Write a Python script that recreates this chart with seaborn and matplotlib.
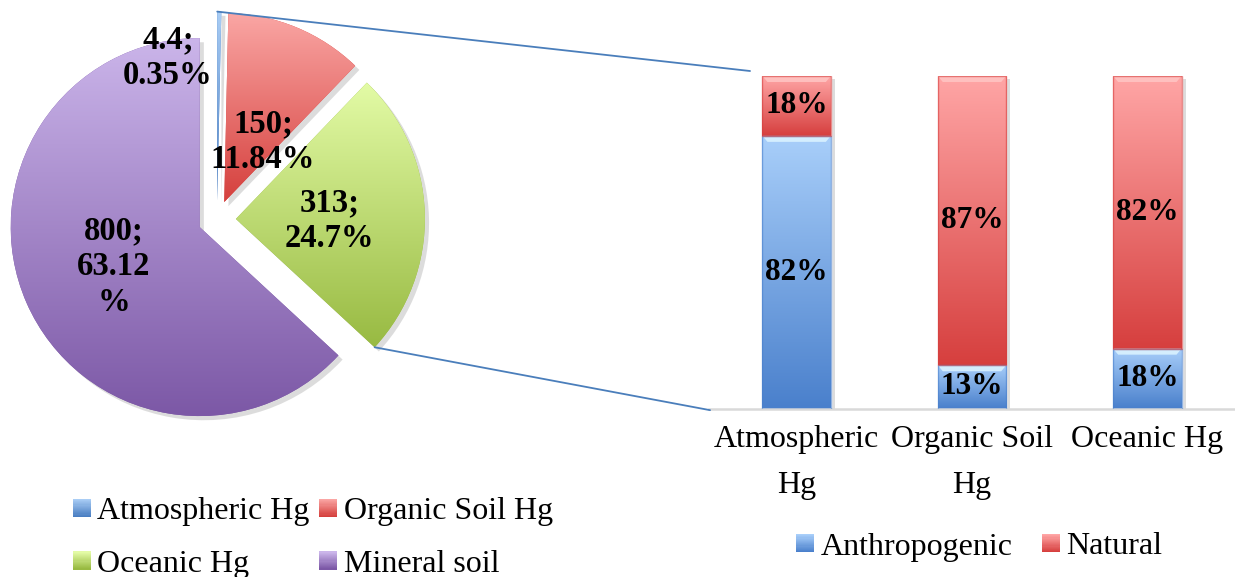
import numpy as np
import matplotlib
matplotlib.use("Agg")
import matplotlib.pyplot as plt
import matplotlib.patheffects as pe
import seaborn as sns
from matplotlib.patches import Rectangle, Polygon, Patch, ConnectionPatch
from matplotlib.legend_handler import HandlerBase
from matplotlib.colors import LinearSegmentedColormap, to_rgb

# Global mercury pools (pie)
sources = ["Atmospheric Hg", "Organic Soil Hg", "Oceanic Hg", "Mineral soil"]
amounts = [4.4, 150, 313, 800]

# Share of anthropogenic vs natural mercury per pool (stacked bars)
bar_categories = ["Atmospheric\nHg", "Organic Soil\nHg", "Oceanic Hg"]
anthropogenic = [82, 13, 18]
natural = [18, 87, 82]

sns.set_theme(style="white")
plt.rcParams["font.family"] = ["Liberation Serif", "DejaVu Serif"]

# top / bottom colours of the vertical gradients
pie_grad = [("#A9CDF5", "#4A7EC2"), ("#FAA6A4", "#D5403D"),
            ("#E3FBA6", "#98BA42"), ("#CBB5EA", "#7C58A6")]
blue_grad = ("#A9CFFA", "#4A80CC")
red_grad = ("#FFA6A6", "#D63F3E")
line_blue = "#4A7EBB"

W, H = 1235, 577
fig = plt.figure(figsize=(W / 100, H / 100), dpi=100)


def gradient_fill(ax, top, bottom, extent, clip=None, zorder=2):
    cmap = LinearSegmentedColormap.from_list("g", [top, bottom])
    grad = np.linspace(0, 1, 256).reshape(-1, 1)
    im = ax.imshow(grad, cmap=cmap, extent=extent, origin="upper",
                   aspect="auto", interpolation="bicubic", zorder=zorder)
    if clip is not None:
        im.set_clip_path(clip)
    return im


# ---------------- pie ----------------
R, cx, cy, half = 189.0, 217.0, 219.5, 215.0
ax_pie = fig.add_axes([(cx - half) / W, (H - cy - half) / H, 2 * half / W, 2 * half / H])
wedges, _ = ax_pie.pie(amounts, startangle=90, counterclock=False,
                       explode=[0.1] * len(amounts), radius=1,
                       wedgeprops=dict(linewidth=0))
lim = half / R
ax_pie.axis("off")

shadow = [pe.SimplePatchShadow(offset=(3, -3), shadow_rgbFace="#777777", alpha=0.25), pe.Normal()]
for w, (top, bot) in zip(wedges, pie_grad):
    w.set_facecolor(bot)
    w.set_path_effects(shadow)
    ext = w.get_path().get_extents()
    gradient_fill(ax_pie, top, bot, [ext.x0, ext.x1, ext.y0, ext.y1], clip=w)
ax_pie.set_xlim(-lim, lim)
ax_pie.set_ylim(-lim, lim)

total = sum(amounts)
label_pos = [(-0.259, 0.855), (0.243, 0.410), (0.595, -0.005), (-0.545, -0.250)]
wrap_pct = [False, False, False, True]
for amt, (lx, ly), wrap in zip(amounts, label_pos, wrap_pct):
    pct = f"{round(100 * amt / total, 2):g}"
    txt = f"{amt:g};\n{pct}\n%" if wrap else f"{amt:g};\n{pct}%"
    ax_pie.text(lx, ly, txt, ha="center", va="center", multialignment="center",
                fontsize=23.5, fontweight="bold", color="black", linespacing=1.2, zorder=5)

# ---------------- stacked bars ----------------
x0_px, base_px, top_px = 709.0, 408.5, 76.0
ax_bar = fig.add_axes([x0_px / W, (H - base_px) / H, (W - x0_px) / W, (base_px - top_px) / H])
totals = [a + n for a, n in zip(anthropogenic, natural)]
sns.barplot(x=bar_categories, y=totals, color=red_grad[1], width=0.39,
            saturation=1, ax=ax_bar)
sns.barplot(x=bar_categories, y=anthropogenic, color=blue_grad[1], width=0.39,
            saturation=1, ax=ax_bar)

ax_bar.set_xlim(-0.5, len(bar_categories) - 0.5)
ax_bar.set_ylim(0, 100)
px_per_unit = (W - x0_px) / len(bar_categories)

n = len(bar_categories)
red_bars, blue_bars = ax_bar.patches[:n], ax_bar.patches[n:2 * n]
dx = 5 / px_per_unit
dy = 6 / (base_px - top_px) * 100
for rb, bb, a, nat in zip(red_bars, blue_bars, anthropogenic, natural):
    rb.set_path_effects([pe.SimplePatchShadow(offset=(3, -2), shadow_rgbFace="#777777", alpha=0.25), pe.Normal()])
    xl, wd = bb.get_x(), bb.get_width()
    segments = [(0, a, blue_grad, "#DDF4FF"), (a, a + nat, red_grad, "#FFC6C4")]
    for y0, y1, (top, bot), hi in segments:
        gradient_fill(ax_bar, top, bot, [xl, xl + wd, y0, y1], zorder=3)
        ax_bar.add_patch(Polygon([(xl, y1), (xl + wd, y1), (xl + wd - dx, y1 - dy), (xl + dx, y1 - dy)],
                                 closed=True, facecolor=hi, edgecolor="none", alpha=0.85, zorder=4))
        ax_bar.add_patch(Rectangle((xl, y0), wd, y1 - y0, facecolor="none",
                                   edgecolor=bot, linewidth=1.0, alpha=0.6, zorder=4))
        ax_bar.text(xl + wd / 2, (y0 + y1) / 2, f"{y1 - y0:g}%", ha="center", va="center",
                    fontsize=22.5, fontweight="bold", color="black", zorder=6)

for s in ["left", "right", "top"]:
    ax_bar.spines[s].set_visible(False)
ax_bar.spines["bottom"].set_color("#D9D9D9")
ax_bar.spines["bottom"].set_linewidth(1.8)
ax_bar.set_yticks([])
ax_bar.set_xlabel("")
ax_bar.set_ylabel("")
ax_bar.tick_params(axis="x", length=0, pad=12, labelsize=23, labelcolor="black")
for t in ax_bar.get_xticklabels():
    t.set_linespacing(1.75)

# ---------------- connector lines ----------------
w_atm, w_oce = wedges[0], wedges[2]
ta = np.deg2rad(w_atm.theta2)
pA_top = (w_atm.center[0] + w_atm.r * np.cos(ta), w_atm.center[1] + w_atm.r * np.sin(ta))
to = np.deg2rad(w_oce.theta1)
pA_bot = (w_oce.center[0] + w_oce.r * np.cos(to), w_oce.center[1] + w_oce.r * np.sin(to))
for pa, pb in [(pA_top, (0.078, 1.015)), (pA_bot, (0.002, -0.005))]:
    con = ConnectionPatch(xyA=pa, coordsA=ax_pie.transData, xyB=pb, coordsB=ax_bar.transAxes,
                          color=line_blue, linewidth=1.3)
    fig.add_artist(con)


# ---------------- legends ----------------
class GradientSquare(HandlerBase):
    def __init__(self, top, bottom, size=13.0, steps=16):
        super().__init__()
        self.top, self.bottom = to_rgb(top), to_rgb(bottom)
        self.size, self.steps = size, steps

    def create_artists(self, legend, orig_handle, xdescent, ydescent, width, height, fontsize, trans):
        s = self.size
        x0 = -xdescent + (width - s) / 2
        y0 = -ydescent + (height - s) / 2
        arts = []
        for i in range(self.steps):
            f = i / (self.steps - 1)
            c = tuple(t + (b - t) * f for t, b in zip(self.top, self.bottom))
            yy = y0 + s - (i + 1) * s / self.steps
            arts.append(Rectangle((x0, yy), s, s / self.steps + 0.05, facecolor=c,
                                  edgecolor="none", transform=trans))
        return arts


pie_handles = [Patch(label=lab) for lab in sources]
order = [0, 2, 1, 3]
fig.legend(handles=[pie_handles[i] for i in order], labels=[sources[i] for i in order],
           handler_map={h: GradientSquare(*g) for h, g in zip(pie_handles, pie_grad)},
           ncol=2, loc="center left", bbox_to_anchor=(73 / W, 1 - 538 / H),
           frameon=False, fontsize=23, labelcolor="black", handlelength=0.56, handleheight=0.56,
           handletextpad=0.2, columnspacing=0.3, labelspacing=0.74,
           borderpad=0, borderaxespad=0)

bar_handles = [Patch(label="Anthropogenic"), Patch(label="Natural")]
fig.legend(handles=bar_handles, labels=["Anthropogenic", "Natural"],
           handler_map={bar_handles[0]: GradientSquare(*blue_grad),
                        bar_handles[1]: GradientSquare(*red_grad)},
           ncol=2, loc="center left", bbox_to_anchor=(796 / W, 1 - 547 / H),
           frameon=False, fontsize=23, labelcolor="black", handlelength=0.56, handleheight=0.56,
           handletextpad=0.2, columnspacing=0.92, borderpad=0, borderaxespad=0)

fig.savefig("out.png", dpi=100)
